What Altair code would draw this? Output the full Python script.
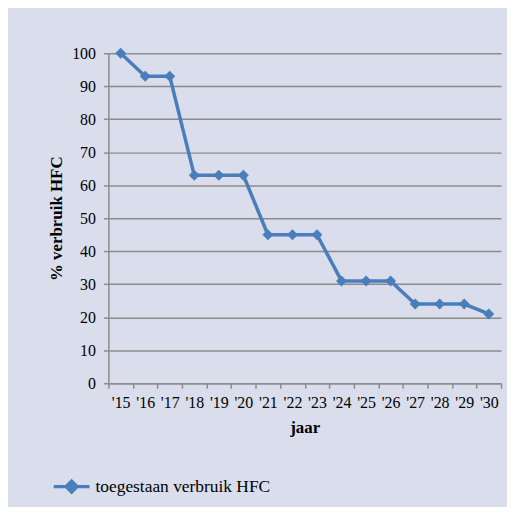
import altair as alt
import pandas as pd

years = ["'15", "'16", "'17", "'18", "'19", "'20", "'21", "'22", "'23", "'24", "'25", "'26", "'27", "'28", "'29", "'30"]
values = [100, 93, 93, 63, 63, 63, 45, 45, 45, 31, 31, 31, 24, 24, 24, 21]
series = "toegestaan verbruik HFC"

df = pd.DataFrame({"jaar": years, "waarde": values, "reeks": [series] * len(years)})

blue = "#4a7ebb"
bg = "#d9ddec"
font = "Liberation Serif"

legend_symbol = "M-1,0L1,0M0,-0.3L0.3,0L0,0.3L-0.3,0Z"

chart = alt.Chart(df).mark_line(
    strokeWidth=3.5,
    point=alt.OverlayMarkDef(shape="diamond", size=121, filled=True, color=blue, opacity=1),
).encode(
    x=alt.X("jaar:N", sort=years, title="jaar",
            scale=alt.Scale(paddingInner=0, paddingOuter=0),
            axis=alt.Axis(labelAngle=0, tickBand="extent", grid=False, labelPadding=6,
                          titlePadding=10, labelFont=font)),
    y=alt.Y("waarde:Q", title="% verbruik HFC",
            scale=alt.Scale(domain=[0, 100]),
            axis=alt.Axis(values=list(range(0, 101, 10)), labelPadding=8, titlePadding=6,
                          labelFont=font)),
    color=alt.Color("reeks:N", scale=alt.Scale(range=[blue]),
                    legend=alt.Legend(title=None, orient="none", legendX=-57, legendY=416,
                                      symbolType=legend_symbol, symbolSize=1296,
                                      symbolStrokeWidth=3.5, symbolFillColor=blue,
                                      symbolStrokeColor=blue, labelFontSize=17.5,
                                      labelFont=font, labelColor="#000000", labelLimit=400,
                                      labelOffset=4, padding=0)),
).properties(
    width=395,
    height=332,
    background=bg,
    padding={"left": 101, "top": 44, "right": 6, "bottom": 123},
    autosize=alt.AutoSizeParams(type="none"),
).configure(
    font=font,
).configure_view(
    stroke=None,
    fill=bg,
).configure_axis(
    labelFont=font,
    labelFontSize=16,
    labelColor="#000000",
    titleFont=font,
    titleFontSize=17,
    titleFontWeight="bold",
    titleColor="#000000",
    domainColor="#8c8c8c",
    domainWidth=1.5,
    tickColor="#8c8c8c",
    tickWidth=1.5,
    tickSize=5,
    gridColor="#8c8c8c",
    gridWidth=1.5,
)

chart.save("out.html", embed_options={"renderer": "svg", "actions": False})
